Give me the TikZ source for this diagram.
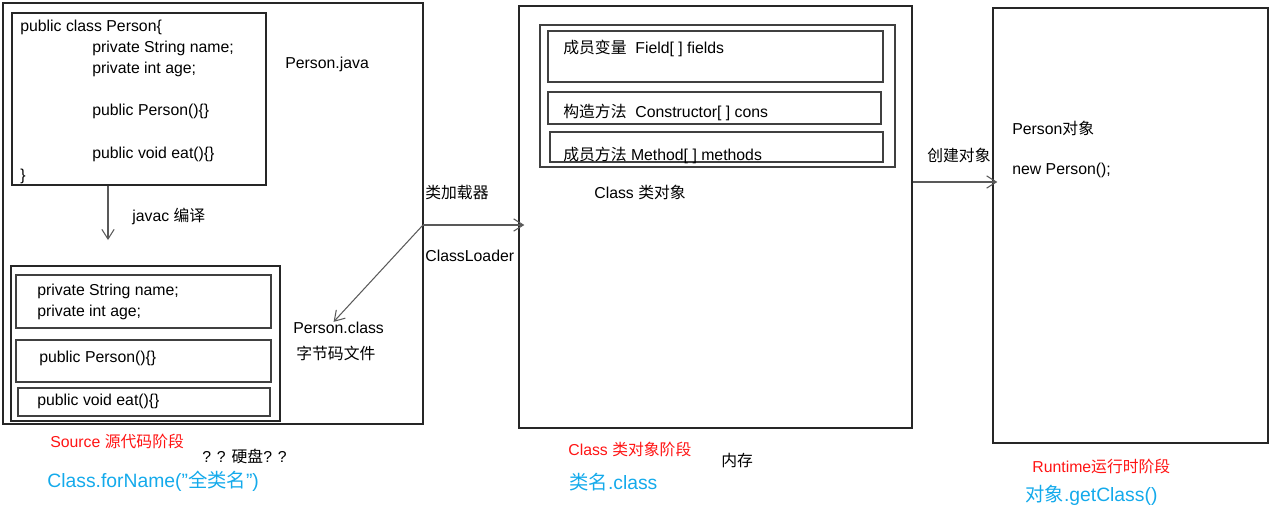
\documentclass[tikz,border=0pt]{standalone}
\usepackage{fontspec}
\setmainfont{Liberation Sans}
\newfontfamily\cjk{Noto Sans CJK SC}
\usetikzlibrary{arrows.meta, positioning, fit}

\definecolor{stagered}{RGB}{255,20,20}
\definecolor{apiblue}{RGB}{20,170,235}

\tikzset{
  box/.style={draw=black!85, line width=0.8pt, inner sep=0pt},
  part/.style={draw=black!75, line width=0.7pt, inner sep=0pt},
  txt/.style={anchor=west, inner sep=0pt, font=\fontsize{9}{11}\selectfont},
  stage/.style={txt, text=stagered},
  api/.style={anchor=west, inner sep=0pt, text=apiblue, font=\fontsize{11}{13}\selectfont},
  link/.style={draw=black!65, line width=0.6pt, ->},
  >={Straight Barb[length=5.5pt, width=7pt]}
}

\begin{document}
\begin{tikzpicture}[x=0.02cm, y=-0.02cm]
\useasboundingbox (0,0) rectangle (1281,507);

% Source stage
\node[box, fit={(3,3) (423,424)}] (source) {};
\node[box, fit={(12,13) (266,185)}] (srccode) {};
\node[txt] (l1) at (20,27) {public class Person\{};
\node[txt] (l2) at (92,48) {private String name;};
\node[txt] (l3) at (92,69) {private int age;};
\node[txt] (l4) at (92,111) {public Person()\{\}};
\node[txt] (l5) at (92,154) {public void eat()\{\}};
\node[txt] (l6) at (20,176) {\}};
\node[txt] (pjava) at (285,64) {Person.java};
\node[txt] (javac) at (132,216) {javac {\cjk 编译}};
\coordinate (compiled) at (108,240);
\draw[link] (srccode.south -| compiled) -- (compiled);

\node[box, fit={(11,266) (280,421)}] (bytecode) {};
\node[part, fit={(16,275) (271,328)}] (bfields) {};
\node[part, fit={(16,340) (271,382)}] (bcons) {};
\node[part, fit={(18,388) (270,416)}] (bmeth) {};
\node[txt] (b1) at (37,291) {private String name;};
\node[txt] (b2) at (37,312) {private int age;};
\node[txt] (b3) at (39,358) {public Person()\{\}};
\node[txt] (b4) at (37,401) {public void eat()\{\}};
\node[txt] (pclass) at (293,328) {Person.class};
\node[txt] (bfile) at (296,353) {\cjk 字节码文件};

% class loader
\coordinate (loader) at (423,225);
\node[txt] (loadcn) at (425,192) {\cjk 类加载器};
\node[txt] (loaden) at (425,256) {ClassLoader};

% Class stage
\node[box, fit={(519,6) (912,428)}] (classobj) {};
\node[part, fit={(540,25) (895,167)}] (members) {};
\node[part, fit={(548,31) (883,82)}] (mfields) {};
\node[part, fit={(548,92) (881,124)}] (mcons) {};
\node[part, fit={(550,132) (883,162)}] (mmeth) {};
\node[txt] (c1) at (563,48) {{\cjk 成员变量}\ \ Field[ ] fields};
\node[txt] (c2) at (563,112) {{\cjk 构造方法}\ \ Constructor[ ] cons};
\node[txt] (c3) at (563,155) {{\cjk 成员方法} Method[ ] methods};
\node[txt] (clabel) at (594,192) {Class {\cjk 类对象}};

\draw[link] (loader) -- ([xshift=-0.1cm]pclass.north);
\draw[link] (loader) -- ([xshift=0.12cm]classobj.west |- loader);

% Runtime stage
\node[box, fit={(993,8) (1268,443)}] (runtime) {};
\node[txt] (pobj) at (1012,128) {Person{\cjk 对象}};
\node[txt] (pnew) at (1012,170) {new Person();};
\node[txt] (create) at (927,155) {\cjk 创建对象};
\coordinate (creatept) at (950,182);
\draw[link] (classobj.east |- creatept) -- ([xshift=0.1cm]runtime.west |- creatept);

% stage captions
\node[stage] (s1) at (50,441) {Source {\cjk 源代码阶段}};
\node[txt] (disk) at (202,456) {? ? {\cjk 硬盘}? ?};
\node[api] (a1) at (47,481) {Class.forName(\symbol{34}{\cjk 全类名}\symbol{34})};
\node[stage] (s2) at (568,449) {Class {\cjk 类对象阶段}};
\node[txt] (mem) at (721,461) {\cjk 内存};
\node[api] (a2) at (569,482) {{\cjk 类名}.class};
\node[stage] (s3) at (1032,466) {Runtime{\cjk 运行时阶段}};
\node[api] (a3) at (1025,495) {{\cjk 对象}.getClass()};
\end{tikzpicture}
\end{document}
